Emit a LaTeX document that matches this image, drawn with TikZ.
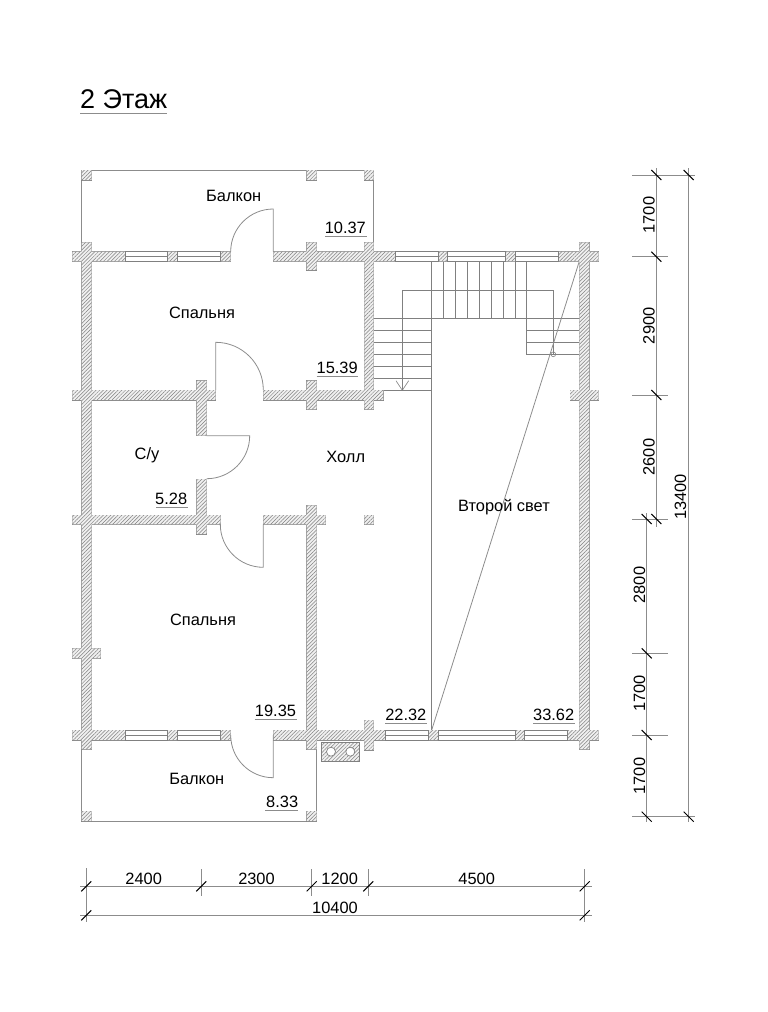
\documentclass[tikz,border=0pt]{standalone}
\usepackage{fontspec}
\setmainfont{Liberation Sans}
\usetikzlibrary{patterns.meta}
\definecolor{wallgray}{gray}{.5}
\definecolor{thingray}{gray}{.55}
\tikzset{
	lbl/.style={font=\fontsize{16.4}{18}\selectfont,inner sep=0pt,anchor=base},
	vlbl/.style={lbl,rotate=90},
	thin line/.style={thingray,line width=.8pt},
	stair line/.style={gray,line width=.6pt},
	dimtick/.style={black,line width=1pt},
	hatch/.style={pattern={Lines[angle=45,distance=2.6pt,line width=.5pt]},pattern color=black!50},
	wall path/.style={insert path={
		(72.3,251.7) rectangle (125,261.3)
		(167.3,251.7) rectangle (177.7,261.3)
		(220.3,251.7) rectangle (230.7,261.3)
		(273.3,251.7) rectangle (395.7,261.3)
		(438.3,251.7) rectangle (447.7,261.3)
		(505.3,251.7) rectangle (515.3,261.3)
		(558.7,251.7) rectangle (598.7,261.3)
		(72.3,390) rectangle (215.7,400)
		(263.3,390) rectangle (383.3,400)
		(570,390) rectangle (598.7,400)
		(72.3,515) rectangle (220.7,524.3)
		(263.3,515) rectangle (325.7,524.3)
		(364.3,515) rectangle (373.7,524.3)
		(72.3,730) rectangle (125,740)
		(167.3,730) rectangle (177.7,740)
		(220.3,730) rectangle (230.7,740)
		(273.3,730) rectangle (385.7,740)
		(428.3,730) rectangle (438.7,740)
		(515.3,730) rectangle (524.7,740)
		(567.3,730) rectangle (598.7,740)
		(81.7,242.3) rectangle (91.7,749.3)
		(579.3,242.3) rectangle (589.3,749.3)
		(364.3,242.3) rectangle (373.7,409.3)
		(306.7,242.3) rectangle (316.7,270)
		(306.7,380.7) rectangle (316.7,409.3)
		(196.7,380.7) rectangle (206.7,435.7)
		(196.7,479) rectangle (206.7,534)
		(306.7,505.3) rectangle (316.7,749.3)
		(364.3,720) rectangle (373.7,750)
		(72.3,648.3) rectangle (100.7,658.3)
		% balcony posts
		(81.7,170) rectangle (91.7,180)
		(306.7,170) rectangle (316.7,180)
		(364.3,170) rectangle (373.7,180)
		(81.7,811) rectangle (91.7,821)
		(306.7,811) rectangle (316.7,821)
	}},
}
\begin{document}
\begin{tikzpicture}[x=1pt,y=-1pt]
	\useasboundingbox (0,0) rectangle (768,1012);
	% title
	\node[lbl,anchor=base west,font=\fontsize{27}{30}\selectfont] (title) at (80,108) {2 Этаж};
	\draw[thin line] (80,113.3) -- (167,113.3);
	% balconies
	\draw[thin line] (81.7,242.3) -- (81.7,170) -- (373.7,170) -- (373.7,242.3);
	\draw[thin line] (81.7,740) -- (81.7,821) -- (316.7,821) -- (316.7,740);
	% stairs
	\draw[stair line] (431.3,261.3) -- (431.3,730)
		(443.3,261.3) -- (443.3,318.3) (455.3,261.3) -- (455.3,318.3)
		(467.3,261.3) -- (467.3,318.3) (479.3,261.3) -- (479.3,318.3)
		(491.3,261.3) -- (491.3,318.3) (503.3,261.3) -- (503.3,318.3)
		(515.3,261.3) -- (515.3,318.3)
		(526.3,261.3) -- (526.3,354.3) -- (579.3,354.3)
		(373.7,318.3) -- (579.3,318.3)
		(526.3,330.3) -- (579.3,330.3) (526.3,342.3) -- (579.3,342.3)
		(373.7,330.3) -- (431.3,330.3) (373.7,342.3) -- (431.3,342.3)
		(373.7,354.3) -- (431.3,354.3) (373.7,366.3) -- (431.3,366.3)
		(373.7,378.3) -- (431.3,378.3) (373.7,390.3) -- (431.3,390.3);
	\draw[stair line] (553.3,354.3) -- (553.3,290) -- (402.3,290) -- (402.3,390.3);
	\draw[stair line] (396,380.7) -- (402.3,390.3) -- (408.7,380.7);
	\draw[stair line] (553.3,354.3) circle (2.4);
	\draw[thin line] (431.7,730) -- (579.3,261.3);
	% walls
	\draw[wallgray,line width=.9pt,wall path];
	\fill[black!6,wall path];
	\fill[hatch,wall path];
	% windows
	\draw[wallgray,line width=.7pt]
		(125,251.7) rectangle (167.3,261.3) (125,256.5) -- (167.3,256.5)
		(177.7,251.7) rectangle (220.3,261.3) (177.7,256.5) -- (220.3,256.5)
		(395.7,251.7) rectangle (438.3,261.3) (395.7,256.5) -- (438.3,256.5)
		(447.7,251.7) rectangle (505.3,261.3) (447.7,256.5) -- (505.3,256.5)
		(515.3,251.7) rectangle (558.7,261.3) (515.3,256.5) -- (558.7,256.5)
		(125,730) rectangle (167.3,740) (125,735) -- (167.3,735)
		(177.7,730) rectangle (220.3,740) (177.7,735) -- (220.3,735)
		(385.7,730) rectangle (428.3,740) (385.7,735) -- (428.3,735)
		(438.7,730) rectangle (515.3,740) (438.7,735) -- (515.3,735)
		(524.7,730) rectangle (567.3,740) (524.7,735) -- (567.3,735);
	% doors
	\draw[thin line] (273.3,251.7) -- (273.3,209) arc[start angle=270,end angle=180,radius=42.6];
	\draw[thin line] (215.7,390) -- (215.7,342.3) arc[start angle=270,end angle=360,radius=47.6];
	\draw[thin line] (206.7,435.7) -- (249.7,435.7) arc[start angle=0,end angle=90,radius=43];
	\draw[thin line] (263.3,524.3) -- (263.3,567.3) arc[start angle=90,end angle=180,radius=43];
	\draw[thin line] (273.3,735) -- (273.3,777.7) arc[start angle=90,end angle=180,radius=42.6];
	% chimney
	\draw[wallgray,line width=.7pt,fill=black!6] (321,742.3) rectangle (359.7,761.7);
	\fill[hatch] (321,742.3) rectangle (359.7,761.7);
	\draw[wallgray,line width=.7pt,fill=white] (331,751.7) circle (4.5) (350.3,751.7) circle (4.5);
	% rooms
	\node[lbl] (balk1) at (233.7,201.7) {Балкон};
	\node[lbl] (sp1) at (202,318.3) {Спальня};
	\node[lbl] (wc) at (147,459) {С/у};
	\node[lbl] (hall) at (345.8,462.3) {Холл};
	\node[lbl] (sp2) at (203,625) {Спальня};
	\node[lbl] (balk2) at (196.8,784.7) {Балкон};
	\node[lbl] (svet) at (504,511) {Второй свет};
	% areas
	\node[lbl] (a1) at (345.3,233.3) {10.37};
	\draw[thin line] (325,236) -- (366.7,236);
	\node[lbl] (a2) at (337.2,373.3) {15.39};
	\draw[thin line] (316.7,376) -- (357.7,376);
	\node[lbl] (a3) at (171.2,504) {5.28};
	\draw[thin line] (156,507) -- (188,507);
	\node[lbl] (a4) at (275.5,716) {19.35};
	\draw[thin line] (254.7,719) -- (297,719);
	\node[lbl] (a5) at (282.2,807.3) {8.33};
	\draw[thin line] (265.3,810.3) -- (298,810.3);
	\node[lbl] (a6) at (405.8,720) {22.32};
	\draw[thin line] (385,723) -- (427,723);
	\node[lbl] (a7) at (553.7,720) {33.62};
	\draw[thin line] (533,723) -- (575,723);
	% dimensions on the right
	\draw[thin line] (632.3,175) -- (695,175) (632.3,256.7) -- (668.3,256.7)
		(632.3,395) -- (668.3,395) (632.3,519) -- (668.3,519)
		(632.3,653.3) -- (668.3,653.3) (632.3,735) -- (668.3,735)
		(632.3,816.7) -- (695,816.7)
		(656.3,168) -- (656.3,526.7) (646.7,513) -- (646.7,822)
		(688.7,168) -- (688.7,822);
	\draw[dimtick] (656.3,175) +(-5,-5) -- +(5,5) (688.7,175) +(-5,-5) -- +(5,5)
		(656.3,256.7) +(-5,-5) -- +(5,5) (656.3,395) +(-5,-5) -- +(5,5)
		(656.3,519) +(-5,-5) -- +(5,5) (646.7,519) +(-5,-5) -- +(5,5)
		(646.7,653.3) +(-5,-5) -- +(5,5) (646.7,735) +(-5,-5) -- +(5,5)
		(646.7,816.7) +(-5,-5) -- +(5,5) (688.7,816.7) +(-5,-5) -- +(5,5);
	\node[vlbl] (d1) at (654.5,215) {1700};
	\node[vlbl] (d2) at (654.5,325.8) {2900};
	\node[vlbl] (d3) at (654.5,457) {2600};
	\node[vlbl] (d4) at (686,497) {13400};
	\node[vlbl] (d5) at (645,585) {2800};
	\node[vlbl] (d6) at (645,693.7) {1700};
	\node[vlbl] (d7) at (645,776) {1700};
	% dimensions below
	\draw[thin line] (80,886.3) -- (591.7,886.3) (80,915.3) -- (591.7,915.3)
		(86.3,868) -- (86.3,921.7) (201.3,869) -- (201.3,896)
		(311.7,869) -- (311.7,896) (368.3,869) -- (368.3,896)
		(584.7,869) -- (584.7,921.7);
	\draw[dimtick] (86.3,886.3) +(-5,5) -- +(5,-5) (201.3,886.3) +(-5,5) -- +(5,-5)
		(311.7,886.3) +(-5,5) -- +(5,-5) (368.3,886.3) +(-5,5) -- +(5,-5)
		(584.7,886.3) +(-5,5) -- +(5,-5)
		(86.3,915.3) +(-5,5) -- +(5,-5) (584.7,915.3) +(-5,5) -- +(5,-5);
	\node[lbl] (b1) at (143.7,884.3) {2400};
	\node[lbl] (b2) at (256.5,884.3) {2300};
	\node[lbl] (b3) at (339.7,884.3) {1200};
	\node[lbl] (b4) at (476.7,884.3) {4500};
	\node[lbl] (b5) at (335,913) {10400};
\end{tikzpicture}
\end{document}
